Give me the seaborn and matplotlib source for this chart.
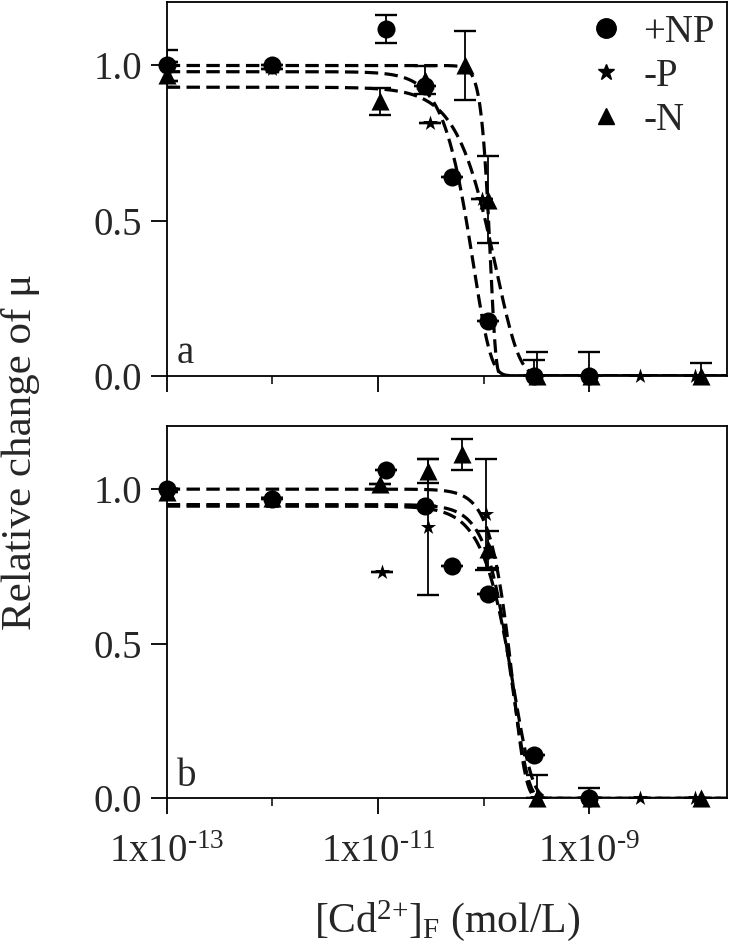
import numpy as np
import pandas as pd
import seaborn as sns
import matplotlib.pyplot as plt
from matplotlib.ticker import FixedLocator, NullFormatter
from matplotlib.lines import Line2D

# measured points, panel a
a_np_x = [1e-13, 1e-12, 1.2e-11, 2.8e-11, 5e-11, 1.1e-10, 3e-10, 1e-9]
a_np_y = [1.0, 1.0, 1.118, 0.934, 0.64, 0.177, 0.0, 0.0]
a_np_err = [0.05, 0.0, 0.045, 0.0, 0.0, 0.0, 0.0, 0.075]

a_p_x = [1e-13, 1e-12, 3.1e-11, 9.6e-11, 3e-10, 1e-9, 3e-9, 1e-8]
a_p_y = [0.98, 0.99, 0.814, 0.57, 0.0, 0.0, 0.0, 0.0]
a_p_err = [0.03, 0.0, 0.0, 0.0, 0.05, 0.0, 0.0, 0.0]

a_n_x = [1e-13, 1.05e-11, 2.8e-11, 6.7e-11, 1.1e-10, 3.2e-10, 1.05e-9, 1.15e-8]
a_n_y = [0.97, 0.884, 0.954, 1.0, 0.567, 0.0, 0.0, 0.0]
a_n_err = [0.04, 0.043, 0.045, 0.11, 0.14, 0.075, 0.0, 0.04]

# measured points, panel b
b_np_x = [1e-13, 1e-12, 1.2e-11, 2.8e-11, 5e-11, 1.1e-10, 3e-10, 1e-9]
b_np_y = [1.0, 0.968, 1.062, 0.946, 0.753, 0.661, 0.14, 0.0]
b_np_err = [0.0, 0.0, 0.0, 0.0, 0.0, 0.0, 0.0, 0.035]

b_p_x = [1e-13, 1e-12, 1.1e-11, 3e-11, 1.05e-10, 3.2e-10, 1e-9, 3e-9, 1e-8]
b_p_y = [1.0, 0.97, 0.731, 0.876, 0.919, 0.0, 0.0, 0.0, 0.0]
b_p_err = [0.0, 0.0, 0.0, 0.22, 0.18, 0.075, 0.0, 0.0, 0.0]

b_n_x = [1e-13, 1e-12, 1.05e-11, 3e-11, 6.3e-11, 1.1e-10, 3.2e-10, 1.05e-9, 1.15e-8]
b_n_y = [0.99, 0.97, 1.015, 1.059, 1.113, 0.806, 0.0, 0.0, 0.0]
b_n_err = [0.0, 0.0, 0.0, 0.04, 0.05, 0.06, 0.0, 0.0, 0.0]

# fitted curves y = top * exp(-(x/k)^h)
a_fit_top = [0.98, 0.93, 1.0]
a_fit_k = [8.0e-11, 1.32e-10, 1.164e-10]
a_fit_h = [2.6, 2.0, 8.5]
b_fit_top = [0.945, 1.0, 0.95]
b_fit_k = [1.95e-10, 1.9e-10, 1.9e-10]
b_fit_h = [2.5, 3.5, 3.0]

series = ["+NP", "-P", "-N"]
markers = {"+NP": "o", "-P": "*", "-N": "^"}
sizes = {"+NP": 13, "-P": 11.5, "-N": 13}

sns.set_style("ticks")
plt.rcParams['font.family'] = ['Liberation Serif', 'DejaVu Serif']
plt.rcParams['mathtext.fontset'] = 'custom'
plt.rcParams['mathtext.rm'] = 'Liberation Serif'
plt.rcParams['mathtext.it'] = 'Liberation Serif:italic'
plt.rcParams['axes.linewidth'] = 1.3
plt.rcParams['axes.edgecolor'] = 'black'

fig = plt.figure(figsize=(7.29, 9.44), dpi=100)
ax_a = fig.add_axes([0.2287, 0.602, 0.768, 0.396])
ax_b = fig.add_axes([0.2287, 0.1543, 0.768, 0.3947])

xs = np.logspace(-13, np.log10(2e-8), 600)


def draw_panel(ax, pts, fits, label):
    top, k, h = fits
    rows = []
    for i, name in enumerate(series):
        yy = top[i] * np.exp(-(xs / k[i]) ** h[i])
        rows.append(pd.DataFrame({"x": xs, "y": yy, "fit": name}))
    curves = pd.concat(rows)
    sns.lineplot(data=curves, x="x", y="y", units="fit", estimator=None,
                 color="black", lw=2.3, ls=(0, (4.2, 2.0)), ax=ax,
                 legend=False)
    for name, (x, y, e) in zip(series, pts):
        ax.errorbar(x, y, yerr=e, fmt="none", ecolor="black", elinewidth=1.3,
                    capsize=8, capthick=1.7, zorder=3)
        df = pd.DataFrame({"x": x, "y": y})
        sns.scatterplot(data=df, x="x", y="y", marker=markers[name],
                        s=sizes[name] ** 2, color="black", edgecolor="black",
                        linewidth=0, ax=ax, clip_on=False, zorder=4,
                        legend=False)
    ax.set_xscale("log")
    ax.set_xlim(1e-13, 2e-8)
    ax.set_ylim(0, 1.205)
    ax.set_yticks([0, 0.5, 1.0])
    ax.set_yticklabels(["0.0", "0.5", "1.0"])
    ax.xaxis.set_major_locator(FixedLocator([1e-13, 1e-11, 1e-9]))
    ax.xaxis.set_minor_locator(FixedLocator([1e-12, 1e-10, 1e-8]))
    ax.xaxis.set_minor_formatter(NullFormatter())
    ax.tick_params(axis="both", which="major", length=11.5, width=1.3,
                   labelsize=28, color="black", pad=6)
    ax.tick_params(axis="x", which="major", pad=14)
    ax.tick_params(axis="x", which="minor", length=6, width=1.3)
    ax.set_xlabel("")
    ax.set_ylabel("")
    for s in ax.spines.values():
        s.set_visible(True)
    ax.text(0.018, 0.01, label, transform=ax.transAxes, fontsize=28,
            va="bottom", ha="left")


draw_panel(ax_a, [(a_np_x, a_np_y, a_np_err), (a_p_x, a_p_y, a_p_err),
                  (a_n_x, a_n_y, a_n_err)],
           (a_fit_top, a_fit_k, a_fit_h), "a")
draw_panel(ax_b, [(b_np_x, b_np_y, b_np_err), (b_p_x, b_p_y, b_p_err),
                  (b_n_x, b_n_y, b_n_err)],
           (b_fit_top, b_fit_k, b_fit_h), "b")

ax_a.set_xticklabels([])
ax_b.set_xticklabels([r"1x10$^{\text{-13}}$", r"1x10$^{\text{-11}}$",
                      r"1x10$^{\text{-9}}$"])

handles = [Line2D([], [], ls="none", marker="o", ms=14, color="black"),
           Line2D([], [], ls="none", marker="*", ms=12, color="black"),
           Line2D([], [], ls="none", marker="^", ms=12, color="black")]
ax_a.legend(handles, series, loc="upper right", bbox_to_anchor=(1.02, 1.03),
            frameon=False, fontsize=28, handlelength=1.0, handletextpad=0.45,
            labelspacing=0.18, borderaxespad=0.2)

fig.text(0.028, 0.521, "Relative change of \u03bc", rotation=90,
         ha="center", va="center", fontsize=31)
fig.text(0.613, 0.001, r"[Cd$^{\text{2+}}$]$_{\text{F}}$ (mol/L)",
         ha="center", va="bottom", fontsize=30)

fig.savefig("out.png", dpi=100)
